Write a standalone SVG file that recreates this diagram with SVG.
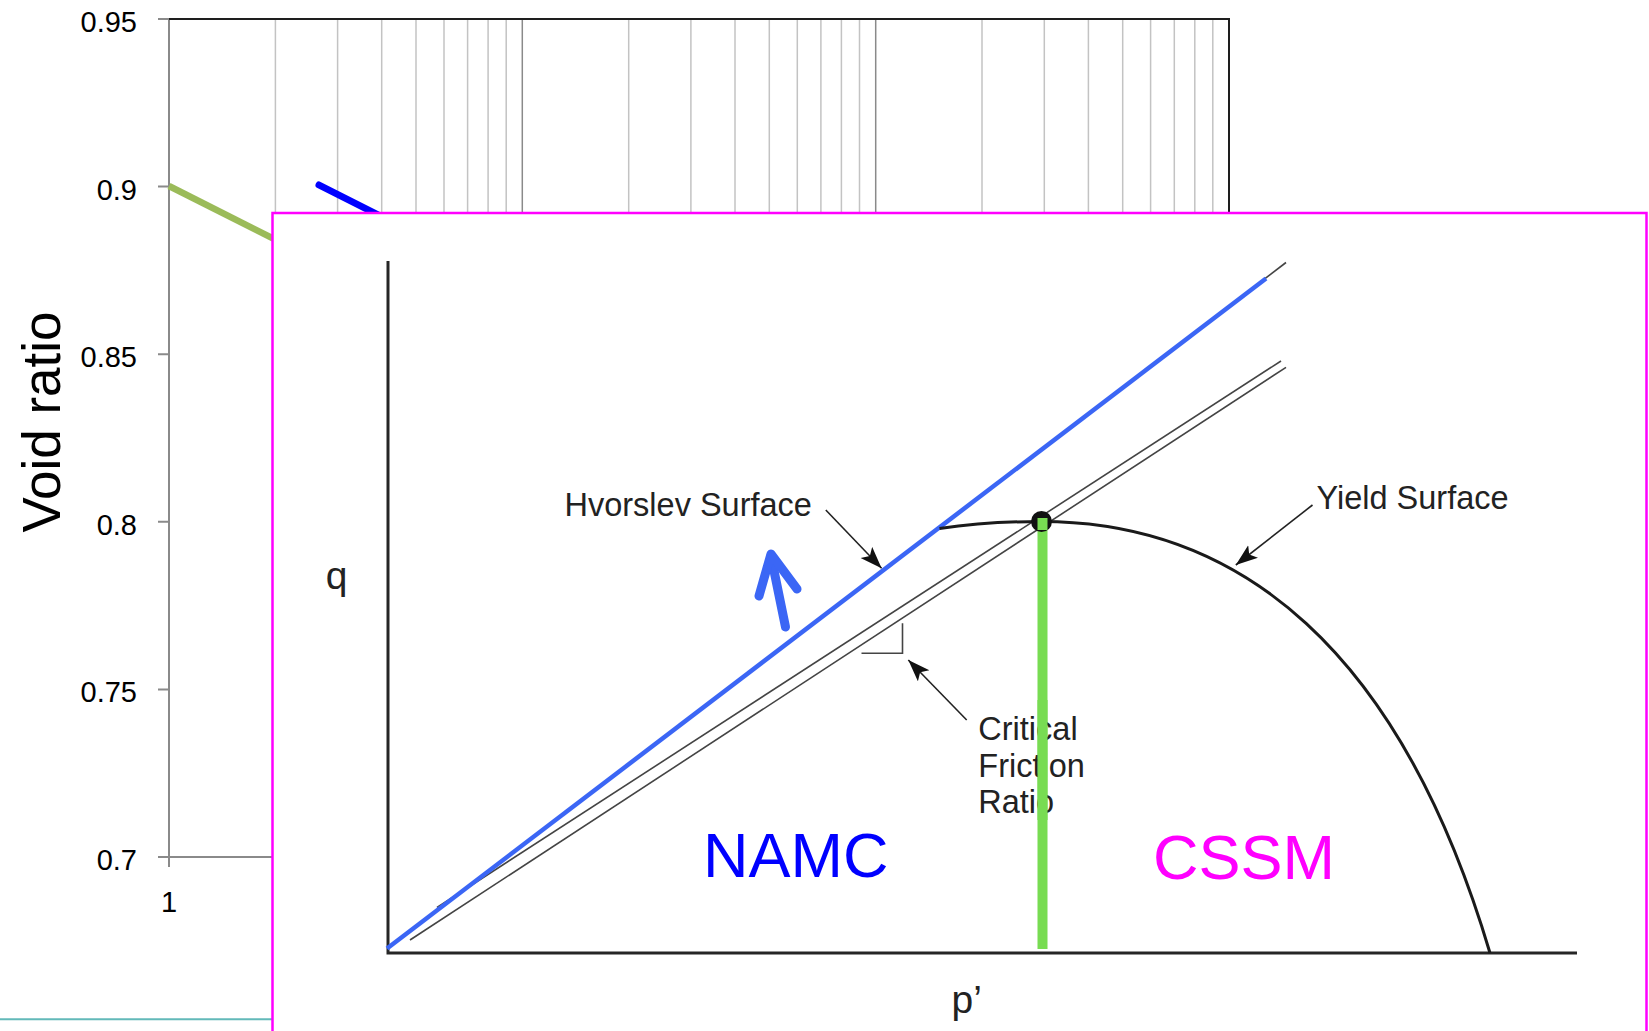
<svg xmlns="http://www.w3.org/2000/svg" width="1649" height="1031" viewBox="0 0 1649 1031">
<defs>
<style>
.lbl{font-family:"Liberation Sans",Arial,sans-serif;fill:#000}
.tick{font-size:29px;text-anchor:end}
.minor{stroke:#c3c3c3;stroke-width:1.5;fill:none}
.major{stroke:#8a8a8a;stroke-width:1.5;fill:none}
.axis{stroke:#8a8a8a;stroke-width:2;fill:none}
.fig{font-family:"Liberation Sans",Arial,sans-serif;font-size:32.5px;fill:#222}
.big{font-family:"Liberation Sans",Arial,sans-serif;font-size:39px;fill:#222}
.ax2{stroke:#262626;stroke-width:3;fill:none}
.thin{stroke:#444;stroke-width:1.6;fill:none}
.conn{stroke:#222;stroke-width:1.6;fill:none;marker-end:url(#ah)}
</style>
<marker id="ah" markerUnits="userSpaceOnUse" markerWidth="26" markerHeight="18" refX="22" refY="8" orient="auto">
<path d="M0,0 L22,8 L0,16 L5,8 Z" fill="#111"/>
</marker>
</defs>
<rect width="1649" height="1031" fill="#fff"/>

<g id="background-chart">
  <g id="gridlines">
    <path class="minor" d="M275.4 19V857M337.6 19V857M381.7 19V857M416 19V857M444 19V857M467.6 19V857M488.1 19V857M506.2 19V857M628.7 19V857M690.9 19V857M735 19V857M769.3 19V857M797.3 19V857M820.9 19V857M841.4 19V857M859.5 19V857M982 19V857M1044.3 19V857M1088.4 19V857M1122.7 19V857M1150.6 19V857M1174.3 19V857M1194.8 19V857M1212.8 19V857"/>
    <path class="major" d="M522.3 19V857M875.7 19V857"/>
  </g>
  <path class="axis" d="M169 19V857H1229M158 19H169M158 186.6H169M158 354.2H169M158 521.8H169M158 689.4H169M158 857H169M169 857V867"/>
  <path d="M169 19H1229V857" stroke="#1e1e1e" stroke-width="2" fill="none"/>
  <g id="y-ticks" class="lbl tick">
    <text x="137" y="32">0.95</text>
    <text x="137" y="199.6">0.9</text>
    <text x="137" y="367.2">0.85</text>
    <text x="137" y="534.8">0.8</text>
    <text x="137" y="702.4">0.75</text>
    <text x="137" y="870">0.7</text>
  </g>
  <text class="lbl" x="169" y="912" font-size="29" text-anchor="middle">1</text>
  <text id="void-ratio" class="lbl" x="60" y="422" font-size="53" text-anchor="middle" transform="rotate(-90 60 422)">Void ratio</text>
  <line id="green-data" x1="169" y1="186" x2="300" y2="252" stroke="#9bbb59" stroke-width="6.5"/>
  <line id="blue-data" x1="319" y1="185" x2="420" y2="236" stroke="#0000ff" stroke-width="7" stroke-linecap="round"/>
</g>

<line id="teal-rule" x1="0" y1="1019.3" x2="272" y2="1019.3" stroke="#62b9b9" stroke-width="2"/>

<g id="inset">
  <rect id="inset-frame" x="272.5" y="213" width="1374" height="840" fill="#fff" stroke="#ff00ff" stroke-width="2.5"/>

  <g id="axes">
    <path class="ax2" d="M388 261V953H1577"/>
    <text class="big" x="336.5" y="589" text-anchor="middle">q</text>
    <text class="big" x="951.5" y="1013">p’</text>
  </g>

  <g id="critical-state-lines">
    <line class="thin" x1="437" y1="907.5" x2="1281" y2="361"/>
    <line class="thin" x1="410" y1="940" x2="1286" y2="367.3"/>
    <path class="thin" d="M861.5 653.3H902.5V623.3"/>
  </g>

  <g id="hvorslev-surface">
    <line class="thin" x1="900" y1="557" x2="1286" y2="262.5"/>
    <line x1="387" y1="948.5" x2="1266" y2="278.5" stroke="#3b66f5" stroke-width="4.5"/>
  </g>

  <g id="yield-surface">
    <path d="M939.5 528.5C970 524 1005 521.5 1041 521.5C1240 521.5 1400 650 1490 953" fill="none" stroke="#1a1a1a" stroke-width="3"/>
  </g>

  <g id="namc-cssm-boundary">
    <rect x="1037.5" y="518" width="10" height="431" fill="#78dc52"/>
    <circle cx="1041.5" cy="521.5" r="10.5" fill="#111"/>
    <rect x="1037.5" y="518" width="10" height="12" fill="#78dc52"/>
  </g>

  <g id="direction-arrow" fill="none" stroke="#3b66f5" stroke-width="9" stroke-linecap="round" stroke-linejoin="round">
    <path d="M785.5 627L771 556"/>
    <path d="M759 596L771 554L797 589"/>
  </g>

  <g id="labels">
    <text id="hvorslev-label" class="fig" x="564.5" y="516">Hvorslev Surface</text>
    <text id="yield-label" class="fig" x="1316.5" y="508.5">Yield Surface</text>
    <text id="critical-label" class="fig" x="978.3" y="740">Critical<tspan x="978.3" y="776.7">Friction</tspan><tspan x="978.3" y="813.3">Ratio</tspan></text>
    <text id="namc" x="703" y="876.5" font-family="Liberation Sans, Arial, sans-serif" font-size="63" fill="#0000ff">NAMC</text>
    <text id="cssm" x="1153" y="879.3" font-family="Liberation Sans, Arial, sans-serif" font-size="63" fill="#ff00ff">CSSM</text>
  </g>
  <rect x="1037.5" y="700" width="10" height="120" fill="#78dc52"/>
</g>

<g id="connectors">
  <line class="conn" x1="825.8" y1="510" x2="881.6" y2="568.3"/>
  <line class="conn" x1="1312.5" y1="505" x2="1235.8" y2="565"/>
  <line class="conn" x1="966.7" y1="720" x2="908.3" y2="660"/>
</g>
</svg>
